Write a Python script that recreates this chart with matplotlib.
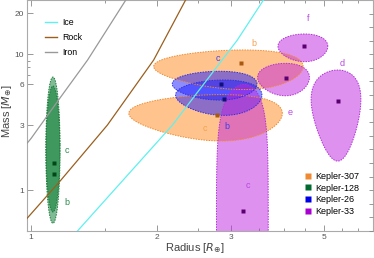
import numpy as np
import matplotlib.pyplot as plt
from matplotlib.lines import Line2D
from matplotlib.ticker import FixedLocator, NullFormatter

plt.rcParams['font.family'] = ['Liberation Sans', 'DejaVu Sans']

# composition curves (radius, mass)
ice_r = [1.29, 2.17, 3.10, 3.58]
ice_m = [0.5, 3.0, 12.7, 25.1]
rock_r = [0.978, 1.178, 1.52, 1.96, 2.335]
rock_m = [0.619, 1.185, 3.01, 9.08, 25.1]
iron_r = [0.978, 1.0, 1.178, 1.364, 1.682]
iron_m = [2.21, 2.40, 4.87, 9.08, 25.1]

# planets: system, letter, best radius, best mass
planet_sys = ['Kepler-307', 'Kepler-307', 'Kepler-128', 'Kepler-128',
              'Kepler-26', 'Kepler-26', 'Kepler-33', 'Kepler-33', 'Kepler-33', 'Kepler-33']
planet_name = ['b', 'c', 'b', 'c', 'b', 'c', 'c', 'd', 'e', 'f']
planet_r = [3.17, 2.78, 1.132, 1.132, 2.88, 2.84, 3.20, 5.39, 4.06, 4.48]
planet_m = [8.67, 3.57, 1.305, 1.589, 4.69, 6.01, 0.70, 4.50, 6.72, 11.57]

# uncertainty regions: radius range, mass range
region_r_lo = [1.96, 1.71, 1.085, 1.085, 2.21, 2.17, 2.766, 4.65, 3.467, 3.877]
region_r_hi = [4.45, 3.97, 1.172, 1.172, 3.55, 3.455, 3.675, 6.11, 4.607, 5.095]
region_m_lo = [5.5, 2.30, 0.57, 0.69, 3.55, 4.60, -4.6, 1.636, 4.95, 8.82]
region_m_hi = [10.76, 5.05, 5.84, 6.8, 6.47, 7.50, 6.0, 7.66, 8.58, 14.11]
region_logspace = [False, False, True, True, False, False, False, False, False, False]

systems = ['Kepler-307', 'Kepler-128', 'Kepler-26', 'Kepler-33']
fill_col = {'Kepler-307': '#ff8a1c', 'Kepler-128': '#00782a',
            'Kepler-26': '#1a1aff', 'Kepler-33': '#c024e0'}
edge_col = {'Kepler-307': '#f08a30', 'Kepler-128': '#1f7a3c',
            'Kepler-26': '#3030e0', 'Kepler-33': '#b030d8'}
dot_col = {'Kepler-307': '#a85a10', 'Kepler-128': '#004818',
           'Kepler-26': '#10107a', 'Kepler-33': '#5a0070'}
label_col = {'Kepler-307': '#f5a050', 'Kepler-128': '#2e8a50',
             'Kepler-26': '#4040e8', 'Kepler-33': '#b848e0'}
legend_col = {'Kepler-307': '#f08a30', 'Kepler-128': '#006a30',
              'Kepler-26': '#0000e6', 'Kepler-33': '#a800d0'}

# where the planet letters sit
label_pos = [(3.39, 12.1), (2.59, 2.82), (1.216, 0.81), (1.216, 1.97),
             (2.93, 2.96), (2.78, 9.34), (3.28, 1.09), (5.50, 8.58),
             (4.15, 3.71), (4.57, 18.4)]

fig = plt.figure(figsize=(3.74, 2.58), dpi=100)
ax = fig.add_axes([27 / 374, 27 / 258, 346 / 374, 231 / 258])
ax.set_xscale('log')
ax.set_yscale('log')

t = np.linspace(0, 2 * np.pi, 300)
for i in range(len(planet_sys)):
    s = planet_sys[i]
    if region_logspace[i]:
        lr = np.log10([region_r_lo[i], region_r_hi[i]])
        lm = np.log10([region_m_lo[i], region_m_hi[i]])
        r = 10 ** (lr.mean() + (lr[1] - lr[0]) / 2 * np.cos(t))
        m = 10 ** (lm.mean() + (lm[1] - lm[0]) / 2 * np.sin(t))
    else:
        r = (region_r_lo[i] + region_r_hi[i]) / 2 + (region_r_hi[i] - region_r_lo[i]) / 2 * np.cos(t)
        m = (region_m_lo[i] + region_m_hi[i]) / 2 + (region_m_hi[i] - region_m_lo[i]) / 2 * np.sin(t)
    keep = m > 0.3
    r, m = r[keep], m[keep]
    ax.fill(r, m, color=fill_col[s], alpha=0.5, lw=0, zorder=2)
    ax.plot(np.append(r, r[0]), np.append(m, m[0]), color=edge_col[s], lw=0.7,
            ls=(0, (1.5, 1.2)), zorder=2.1)

ax.plot(ice_r, ice_m, color='#5ff0f0', lw=0.9, zorder=3)
ax.plot(rock_r, rock_m, color='#9a5f1e', lw=0.9, zorder=3)
ax.plot(iron_r, iron_m, color='#999999', lw=0.9, zorder=3)

for i in range(len(planet_sys)):
    s = planet_sys[i]
    ax.plot(planet_r[i], planet_m[i], 's', color=dot_col[s], ms=3, mec='none', zorder=4)
    ax.text(label_pos[i][0], label_pos[i][1], planet_name[i], color=label_col[s],
            fontsize=6.5, ha='center', va='center', zorder=5)

ax.set_xlim(0.978, 6.53)
ax.set_ylim(0.5, 25.1)

ax.xaxis.set_major_locator(FixedLocator([1, 2, 3, 5]))
ax.xaxis.set_minor_locator(FixedLocator([1.5, 2.5, 3.5, 4, 4.5, 5.5, 6]))
ax.yaxis.set_major_locator(FixedLocator([1, 3, 6, 10, 20]))
ax.yaxis.set_minor_locator(FixedLocator([7, 8, 9]))
ax.set_xticklabels(['1', '2', '3', '5'])
ax.set_yticklabels(['1', '3', '6', '10', '20'])
ax.xaxis.set_minor_formatter(NullFormatter())
ax.yaxis.set_minor_formatter(NullFormatter())
ax.tick_params(which='both', direction='in', colors='#888888', labelcolor='#555555',
               labelsize=6, width=0.6, pad=2, top=True)
ax.tick_params(which='major', length=4)
ax.tick_params(which='minor', length=2.5)
for sp in ax.spines.values():
    sp.set_color('#aaaaaa')
    sp.set_linewidth(0.8)

# right-hand ticks every tenth of a decade
ax2 = ax.twinx()
ax2.set_yscale('log')
ax2.set_ylim(ax.get_ylim())
ax2.yaxis.set_major_locator(FixedLocator([10 ** (k / 10) for k in range(-3, 14)]))
ax2.yaxis.set_minor_locator(FixedLocator([]))
ax2.yaxis.set_major_formatter(NullFormatter())
ax2.tick_params(direction='in', length=3, colors='#888888', width=0.6)
for sp in ax2.spines.values():
    sp.set_visible(False)

ax.set_xlabel(r'Radius [$R_{\oplus}$]', fontsize=8, color='#444444', va='center')
ax.xaxis.set_label_coords(0.485, -0.075)
ax.set_ylabel(r'Mass [$M_{\oplus}$]', fontsize=8, color='#444444', va='center')
ax.yaxis.set_label_coords(-0.058, 0.52)

curve_handles = [Line2D([], [], color='#5ff0f0', lw=1),
                 Line2D([], [], color='#9a5f1e', lw=1),
                 Line2D([], [], color='#999999', lw=1)]
leg1 = ax.legend(curve_handles, ['Ice', 'Rock', 'Iron'], loc='upper left',
                 bbox_to_anchor=(0.03, 0.955), frameon=False, fontsize=6.3,
                 handlelength=1.3, handletextpad=0.6, labelspacing=0.65)
ax.add_artist(leg1)

sys_handles = [Line2D([], [], ls='none', marker='s', ms=5, color=legend_col[s], mec='none')
               for s in systems]
ax.legend(sys_handles, systems, loc='lower right', bbox_to_anchor=(0.985, 0.03),
          frameon=False, fontsize=6.5, handlelength=0.8, handletextpad=0.5,
          labelspacing=0.3)

fig.savefig('out.png', dpi=100)
